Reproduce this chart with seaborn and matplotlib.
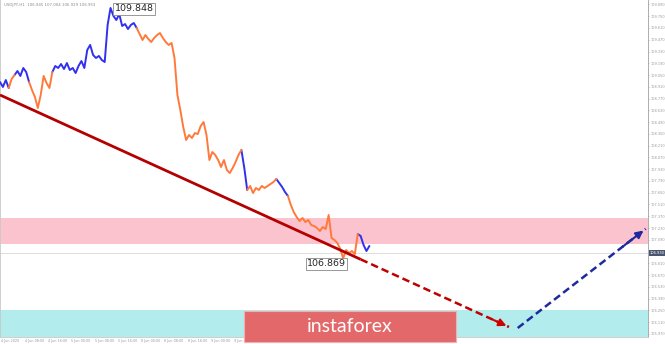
import matplotlib
matplotlib.use("Agg")
import matplotlib.pyplot as plt
import seaborn as sns
import pandas as pd
import numpy as np

# ---------------- data ----------------
# hourly closes, USDJPY (hour index from start of chart)
prices = [108.967, 108.908, 108.991, 108.896, 109.003, 109.050, 109.098, 109.039, 109.134, 109.086,
          108.967, 108.872, 108.789, 108.658, 108.813, 109.039, 108.955, 108.896, 109.086, 109.158,
          109.134, 109.181, 109.122, 109.193, 109.110, 109.134, 109.074, 109.158, 109.217, 109.134,
          109.348, 109.408, 109.289, 109.253, 109.277, 109.229, 109.205, 109.646, 109.848, 109.753,
          109.705, 109.776, 109.634, 109.657, 109.598, 109.646, 109.669, 109.610, 109.538, 109.467,
          109.526, 109.479, 109.443, 109.491, 109.526, 109.550, 109.491, 109.443, 109.408, 109.431,
          109.253, 108.813, 108.634, 108.432, 108.277, 108.337, 108.301, 108.360, 108.348, 108.444,
          108.491, 108.337, 108.039, 108.134, 108.099, 108.039, 107.956, 108.039, 107.920, 107.884,
          107.944, 108.015, 108.099, 108.158, 107.944, 107.682, 107.730, 107.646, 107.706, 107.682,
          107.730, 107.706, 107.730, 107.753, 107.777, 107.813, 107.766, 107.718, 107.658, 107.611,
          107.504, 107.420, 107.361, 107.313, 107.349, 107.301, 107.325, 107.265, 107.254, 107.230,
          107.194, 107.242, 107.218, 107.385, 107.111, 107.087, 107.051, 106.980, 106.869, 106.968,
          106.932, 106.956, 106.920, 107.158, 107.135, 107.028, 106.956, 107.016]
hours = list(range(len(prices)))

# wave segments (start index, end index, wave colour group)
wave_start = [0, 3, 5, 10, 18, 47, 83, 85, 95, 99, 123]
wave_end   = [3, 5, 10, 18, 47, 83, 85, 95, 99, 123, 127]
wave_kind  = ["A", "B", "A", "B", "A", "B", "A", "B", "A", "B", "A"]

# trend line and forecast
trend_hours = [0, 124, 175]
trend_prices = [108.813, 106.857, 106.052]
fc_hours = [178, 222]
fc_prices = [106.040, 107.220]

# zones
resist_zone = [107.040, 107.350]
support_zone = [105.900, 106.254]

high_val, high_idx = 109.848, 38
low_val, low_idx = 106.869, 118
last_price = 106.930

price_ticks = [109.890, 109.750, 109.610, 109.470, 109.330, 109.190, 109.050, 108.910, 108.770,
               108.630, 108.490, 108.350, 108.210, 108.070, 107.930, 107.790, 107.650, 107.510,
               107.370, 107.230, 107.090, 106.950, 106.810, 106.670, 106.530, 106.390, 106.250,
               106.110, 105.970]
time_ticks = [0.5, 8.5, 16.5, 24.5, 32.5, 40.5, 48.5, 56.5, 64.5, 72.5, 80.5]
time_labels = ["4 Jun 2020", "4 Jun 08:00", "4 Jun 16:00", "5 Jun 00:00", "5 Jun 08:00",
               "5 Jun 16:00", "8 Jun 00:00", "8 Jun 08:00", "8 Jun 16:00", "9 Jun 00:00",
               "9 Jun 08:00"]
header = "USDJPY,H1  106.945 107.004 106.929 106.953"

# ---------------- drawing ----------------
sns.set_style("white")
W, H = 665, 344
fig = plt.figure(figsize=(W / 100, H / 100), dpi=100)
ax = fig.add_axes([0.0, 7 / H, 648 / W, 337 / H])

ax.axhspan(resist_zone[0], resist_zone[1], color="#FBC3CD", lw=0, zorder=0)
ax.axhspan(support_zone[0], support_zone[1], color="#B3ECEC", lw=0, zorder=0)
ax.axhline(last_price, color="#d8d8d8", lw=0.6, zorder=0.5)

rows = []
for s, e, k in zip(wave_start, wave_end, wave_kind):
    for i in range(s, e + 1):
        rows.append({"t": hours[i], "p": prices[i], "seg": f"{s}", "kind": k})
df = pd.DataFrame(rows)
sns.lineplot(data=df, x="t", y="p", units="seg", hue="kind", estimator=None, sort=False,
             palette={"A": "#3030EE", "B": "#FF7A3A"}, legend=False, lw=1.4, ax=ax, zorder=3)

# trend line: solid part then dashed projection
ax.plot(trend_hours[:2], trend_prices[:2], color="#B40000", lw=2.0, zorder=4,
        solid_capstyle="butt")
ax.plot(trend_hours[1:], trend_prices[1:], color="#C00000", lw=1.8, ls=(0, (3, 1.6)), zorder=4)
dx = trend_hours[2] - trend_hours[1]
dy = trend_prices[2] - trend_prices[1]
ax.annotate("", xy=(trend_hours[2], trend_prices[2]),
            xytext=(trend_hours[2] - 0.12 * dx, trend_prices[2] - 0.12 * dy),
            arrowprops=dict(arrowstyle="-|>", color="#D00000", lw=1.5, mutation_scale=11), zorder=5)

ax.plot(fc_hours, fc_prices, color="#1E2A9E", lw=1.8, ls=(0, (3, 1.6)), zorder=4)
dx = fc_hours[1] - fc_hours[0]
dy = fc_prices[1] - fc_prices[0]
ax.annotate("", xy=(fc_hours[1], fc_prices[1]),
            xytext=(fc_hours[1] - 0.2 * dx, fc_prices[1] - 0.2 * dy),
            arrowprops=dict(arrowstyle="-|>", color="#1E2A9E", lw=1.5, mutation_scale=11), zorder=5)

# extreme labels
bbox = dict(boxstyle="square,pad=0.15", fc="white", ec="#888888", lw=0.6)
ax.annotate(f"{high_val:.3f}", xy=(high_idx, high_val), xytext=(3, -0.5), textcoords="offset points",
            ha="left", va="center", fontsize=6.8, bbox=bbox, zorder=6)
ax.annotate(f"{low_val:.3f}", xy=(low_idx, low_val), xytext=(2, -0.8), textcoords="offset points",
            ha="right", va="top", fontsize=6.8, bbox=bbox, zorder=6)

ax.set_xlim(0, 222.8)
ax.set_ylim(105.933, 109.943)

ax.yaxis.tick_right()
ax.set_yticks(price_ticks)
ax.set_yticklabels([f"{v:.3f}" for v in price_ticks])
ax.tick_params(axis="y", labelsize=2.5, colors="#9a9a9a", length=1.0, pad=0.8, width=0.4)
ax.set_xticks(time_ticks)
ax.set_xticklabels(time_labels, ha="left")
ax.tick_params(axis="x", labelsize=2.4, colors="#9a9a9a", length=0.8, pad=0.4, width=0.4)
ax.set_xlabel("")
ax.set_ylabel("")
ax.spines["top"].set_visible(False)
ax.spines["right"].set_color("#a0a0a0")
ax.spines["left"].set_color("#c8c8c8")
ax.spines["bottom"].set_color("#c8c8c8")
for sp in ax.spines.values():
    sp.set_linewidth(0.6)

# current price tag
ax.text(1.003, last_price, f"{last_price:.3f}", transform=ax.get_yaxis_transform(),
        ha="left", va="center", fontsize=2.6, color="white",
        bbox=dict(boxstyle="square,pad=0.25", fc="#4A5570", ec="none"), clip_on=False, zorder=7)

ax.text(0.006, 0.99, header, transform=ax.transAxes, ha="left", va="top",
        fontsize=2.8, color="#8a8a8a")

# logo
fig.patches.append(plt.Rectangle((244 / W, (H - 342) / H), 212 / W, 31 / H,
                                 transform=fig.transFigure, fc="#E2686A", ec="#F2B0B0",
                                 lw=0.8, zorder=10))
fig.text(350 / W, (H - 326) / H, "instaforex", ha="center", va="center", color="white",
         fontsize=14, family="Lato", zorder=11)

fig.savefig("out.png", dpi=100)
